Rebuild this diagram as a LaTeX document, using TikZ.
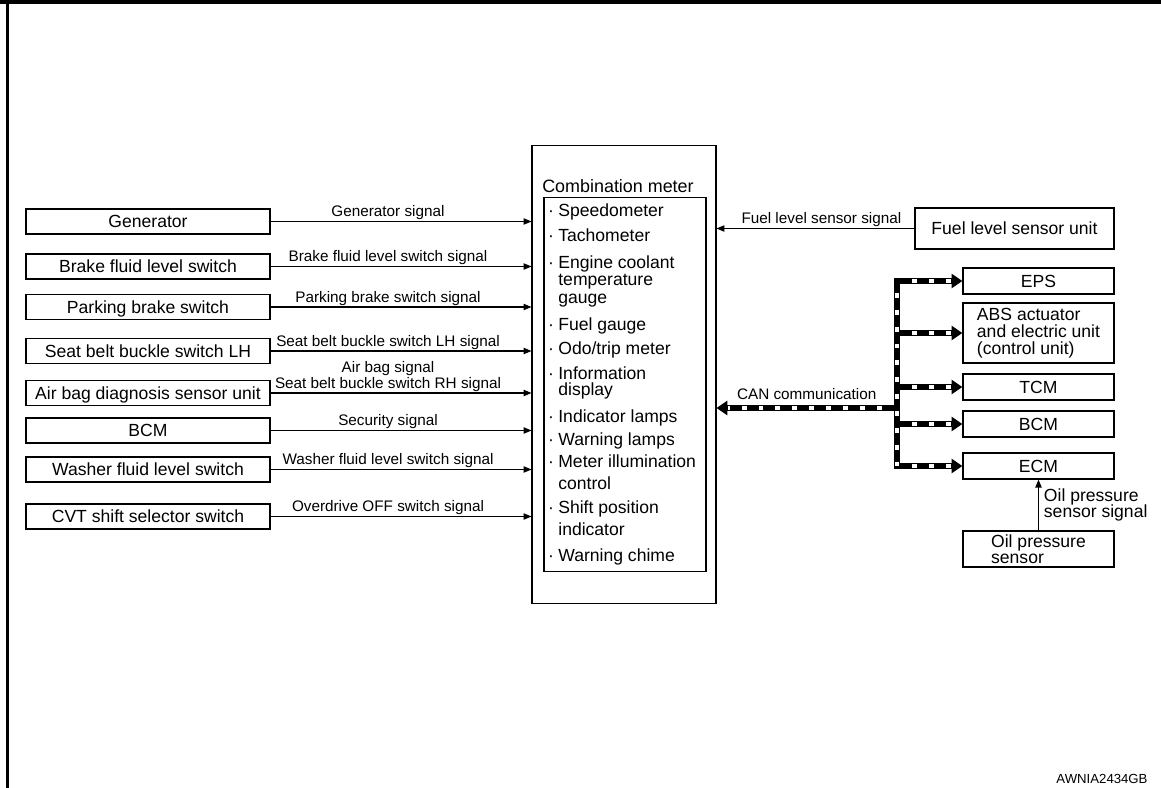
\documentclass[tikz,border=0pt]{standalone}
\usepackage{fontspec}
\setmainfont{Liberation Sans}
\usetikzlibrary{arrows.meta}

\begin{document}
\begin{tikzpicture}[x=0.02cm, y=-0.02cm,
  every node/.style={inner sep=0pt},
  boxed/.style={draw, line width=0.7pt, minimum height=0.5cm,
    font=\fontsize{10}{11}\selectfont, text height=7.2pt, text depth=0pt},
  srcbox/.style={boxed, minimum width=4.88cm},
  dstbox/.style={boxed, minimum width=3.02cm, minimum height=0.52cm},
  multibox/.style={draw, line width=0.7pt, minimum width=3.02cm, align=left,
    font=\fontsize{10}{9.6}\selectfont},
  sig/.style={line width=0.6pt, -{Triangle[length=4.5pt,width=3.6pt]}},
  siglabel/.style={font=\fontsize{8.7}{7.9}\selectfont, align=center, inner sep=0.5pt},
  canline/.style={line width=3.4pt, black},
  cantip/.style={-{Triangle[length=6.2pt,width=8pt]}},
  canwhite/.style={line width=2pt, white, dash pattern=on 2.8pt off 6.8pt, dash phase=2.8pt},
  meteritem/.style={anchor=base west, font=\fontsize{10}{12}\selectfont}
]
  \useasboundingbox (0,0) rectangle (1161,788);
  % Frame
  \draw[line width=2.5pt] (0,2.25) -- (1161,2.25);
  \draw[line width=1.7pt] (7.5,0) -- (7.5,788);

  % Combination meter
  \node[draw, line width=0.6pt, minimum width=3.68cm, minimum height=9.18cm] (meter) at (624,374.5) {};
  \node[draw, line width=0.6pt, minimum width=3.24cm, minimum height=7.5cm] (list) at (625,384.5) {};
  \node[anchor=base, font=\fontsize{10.2}{12}\selectfont] (title) at (618,192) {Combination meter};
  \foreach \yb/\dot/\txt [count=\i] in {216/·/Speedometer, 241/·/Tachometer,
      268/·/Engine coolant, 285//temperature, 303//gauge, 330/·/Fuel gauge,
      354/·/{Odo/trip meter}, 379/·/Information, 395//display, 422/·/Indicator lamps,
      445/·/Warning lamps, 467/·/Meter illumination, 489//control,
      513/·/Shift position, 535//indicator, 561/·/Warning chime} {
    \node[anchor=base, font=\fontsize{10}{12}\selectfont] (dot\i) at (551,\yb) {\dot};
    \node[meteritem] (item\i) at (558,\yb) {\txt};
  }

  % Inputs on the left
  \foreach \nm/\y/\txt/\sig in {
      gen/221.5/Generator/Generator signal,
      brake/266.5/Brake fluid level switch/Brake fluid level switch signal,
      park/307/Parking brake switch/Parking brake switch signal,
      beltlh/351/Seat belt buckle switch LH/Seat belt buckle switch LH signal,
      airbag/393/Air bag diagnosis sensor unit/Air bag signal\\Seat belt buckle switch RH signal,
      bcm/430.5/BCM/Security signal,
      washer/469.5/Washer fluid level switch/Washer fluid level switch signal,
      cvt/516.5/CVT shift selector switch/Overdrive OFF switch signal} {
    \node[srcbox] (\nm) at (148,\y) {\txt};
    \draw[sig] (\nm.east) -- (\nm.east -| meter.west) node[pos=0.45, above, siglabel] {\sig};
  }

  % Fuel level sensor
  \node[boxed, minimum width=3.98cm, minimum height=0.82cm] (fuel) at (1014.5,228.5) {Fuel level sensor unit};
  \draw[sig] (fuel.west) -- (fuel.west -| meter.east) node[pos=0.47, above, siglabel] {Fuel level sensor signal};

  % CAN units
  \node[dstbox] (eps) at (1038.5,281) {EPS};
  \node[multibox, minimum height=1.2cm] (abs) at (1038.5,333) {ABS actuator\\and electric unit\\(control unit)};
  \node[dstbox] (tcm) at (1038.5,387) {TCM};
  \node[dstbox] (bcmr) at (1038.5,424) {BCM};
  \node[dstbox] (ecm) at (1038.5,466) {ECM};
  \node[multibox, minimum height=0.72cm, font=\fontsize{10}{9.2}\selectfont] (oil) at (1038.5,549) {Oil pressure\\sensor};
  \draw[sig] (oil.north) -- (ecm.south)
    node[midway, right=2.8pt, align=left, font=\fontsize{10}{9.6}\selectfont] {Oil pressure\\sensor signal};

  % CAN communication line
  \coordinate (bus) at (897,408);
  \draw[canline, line cap=rect] (bus |- eps.west) -- (bus |- ecm.west);
  \foreach \n in {eps,abs,tcm,bcmr,ecm}
    \draw[canline, cantip] (bus |- \n.west) -- (\n.west);
  \draw[canline, cantip] (bus) -- (bus -| meter.east)
    node[midway, above=2.6pt, siglabel] {CAN communication};
  \draw[canwhite] (bus |- eps.west) -- (bus |- ecm.west);
  \foreach \n in {eps,abs,tcm,bcmr,ecm}
    \draw[canwhite, shorten <=2pt, shorten >=6.5pt] (bus |- \n.west) -- (\n.west);
  \draw[canwhite, shorten <=2pt, shorten >=6.5pt] (bus) -- (bus -| meter.east);

  \node[font=\fontsize{7.5}{9}\selectfont] (code) at (1102,779) {AWNIA2434GB};
\end{tikzpicture}
\end{document}
